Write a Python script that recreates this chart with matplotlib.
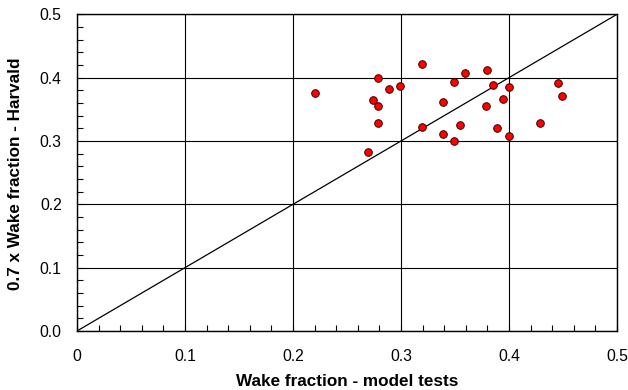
import matplotlib
matplotlib.use("Agg")
import matplotlib.pyplot as plt
from matplotlib.ticker import MultipleLocator, FixedFormatter, FixedLocator

plt.rcParams['font.family'] = ['Liberation Sans', 'DejaVu Sans']

model_tests = [0.220, 0.279, 0.289, 0.299, 0.319, 0.274, 0.279, 0.279, 0.269,
               0.319, 0.339, 0.349, 0.359, 0.339, 0.349, 0.355, 0.380, 0.385,
               0.400, 0.445, 0.449, 0.394, 0.379, 0.389, 0.429, 0.400]
harvald = [0.375, 0.400, 0.382, 0.387, 0.421, 0.365, 0.355, 0.328, 0.283,
           0.322, 0.362, 0.393, 0.407, 0.311, 0.300, 0.325, 0.412, 0.389,
           0.385, 0.391, 0.371, 0.366, 0.355, 0.321, 0.328, 0.308]

x_ticks = [0, 0.1, 0.2, 0.3, 0.4, 0.5]
x_labels = ["0", "0.1", "0.2", "0.3", "0.4", "0.5"]
y_ticks = [0, 0.1, 0.2, 0.3, 0.4, 0.5]
y_labels = ["0.0", "0.1", "0.2", "0.3", "0.4", "0.5"]

fig = plt.figure(figsize=(6.28, 3.90), dpi=100)
ax = fig.add_axes([77/628, 59/390, 540/628, 316.7/390])

ax.set_xlim(0, 0.5)
ax.set_ylim(0, 0.5)
ax.grid(True, color='black', linewidth=0.8)
ax.set_axisbelow(True)
ax.plot([0, 0.5], [0, 0.5], color='black', linewidth=0.9, zorder=2)
ax.scatter(model_tests, harvald, s=30, color='#ff0000', edgecolors='#3a0000',
           linewidths=0.7, zorder=3)

ax.xaxis.set_major_locator(FixedLocator(x_ticks))
ax.xaxis.set_major_formatter(FixedFormatter(x_labels))
ax.yaxis.set_major_locator(FixedLocator(y_ticks))
ax.yaxis.set_major_formatter(FixedFormatter(y_labels))
ax.xaxis.set_minor_locator(MultipleLocator(0.02))
ax.yaxis.set_minor_locator(MultipleLocator(0.02))
ax.tick_params(which='both', direction='in', colors='black', labelsize=11.3)
ax.tick_params(which='major', length=4, width=0.8)
ax.tick_params(which='minor', length=4, width=0.8)
ax.tick_params(axis='x', which='major', pad=13)
ax.tick_params(axis='y', which='major', pad=11)

for s in ax.spines.values():
    s.set_color('black')
    s.set_linewidth(1.0)

ax.set_xlabel("Wake fraction - model tests", fontsize=12.3, fontweight='bold',
              va='center', ha='center')
ax.xaxis.set_label_coords(0.5, (331 - 381) / 316.7)
ax.set_ylabel("0.7 x Wake fraction - Harvald", fontsize=12.3, fontweight='bold',
              va='center', ha='center')
ax.yaxis.set_label_coords((16 - 77) / 540, (331 - 173.5) / 316.7)

fig.savefig("out.png", dpi=100)
